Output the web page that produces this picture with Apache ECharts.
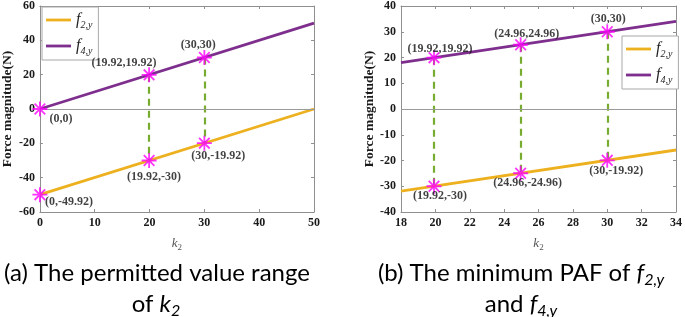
<!DOCTYPE html>
<html>
<head>
<meta charset="utf-8">
<script src="https://cdn.jsdelivr.net/npm/echarts@6.0.0/dist/echarts.min.js"></script>
<style>
  html, body { margin: 0; padding: 0; background: #fff; }
  #chart { width: 685px; height: 317px; }
</style>
</head>
<body>
<div id="chart"></div>
<script>
// (a) permitted value range of k2
const kA = [0, 50]
const f2A = [-49.92, 0]
const f4A = [0, 50]
const markKA = [0, 19.92, 30]
const markF2A = [-49.92, -30, -19.92]
const markF4A = [0, 19.92, 30]
const dashKA = [19.92, 30]
const dashTopA = [19.92, 30]
const dashBotA = [-30, -19.92]

// (b) minimum PAF
const kB = [18, 34]
const f2B = [-31.92, -15.92]
const f4B = [18, 34]
const markKB = [19.92, 24.96, 30]
const markF2B = [-30, -24.96, -19.92]
const markF4B = [19.92, 24.96, 30]

const xTicksA = { min: 0, max: 50, interval: 10 }
const yTicksA = { min: -60, max: 60, interval: 20 }
const xTicksB = { min: 18, max: 34, interval: 2 }
const yTicksB = { min: -40, max: 40, interval: 10 }

const ORANGE = '#EDB120'
const PURPLE = '#7E2F8E'
const MAGENTA = '#FF00FF'
const GREEN = '#77AC30'
const FRAME = '#8f8f8f'
const SERIF = 'Liberation Serif'

// asterisk marker (like MATLAB '*')
const STAR = 'path://M-1.2,-10 L1.2,-10 L1.2,10 L-1.2,10 Z M-10,-1.2 L10,-1.2 L10,1.2 L-10,1.2 Z ' +
  'M6.22,7.92 L-7.92,-6.22 L-6.22,-7.92 L7.92,6.22 Z ' +
  'M7.92,-6.22 L-6.22,7.92 L-7.92,6.22 L6.22,-7.92 Z'

const chart = echarts.init(document.getElementById('chart'))

const zip = (xs, ys) => xs.map((x, i) => [x, ys[i]])

function axisPair(ticks, gridIndex, posMain, posOpp, name, nameGap, isX) {
  const main = {
    type: 'value', gridIndex, position: posMain, ...ticks,
    axisLine: { show: true, onZero: false, lineStyle: { color: FRAME, width: 1 } },
    axisTick: { show: true, inside: true, length: 3, lineStyle: { color: FRAME } },
    axisLabel: { color: '#1a1a1a', fontFamily: SERIF, fontWeight: 'bold', fontSize: 12, margin: 5 },
    splitLine: { show: false },
    name, nameLocation: 'middle', nameGap
  }
  if (isX) {
    main.nameTextStyle = {
      rich: {
        k: { fontFamily: SERIF, fontStyle: 'italic', fontSize: 13, color: '#555' },
        s: { fontFamily: SERIF, fontSize: 9, color: '#555', verticalAlign: 'bottom', padding: [8, 0, 0, 0] }
      }
    }
  } else {
    main.nameTextStyle = { fontFamily: SERIF, fontWeight: 'bold', fontSize: 13.5, color: '#1a1a1a' }
  }
  const opp = {
    type: 'value', gridIndex, position: posOpp, ...ticks,
    axisLine: { show: true, onZero: false, lineStyle: { color: FRAME, width: 1 } },
    axisTick: { show: true, inside: true, length: 3, lineStyle: { color: FRAME } },
    axisLabel: { show: false },
    splitLine: { show: false }
  }
  return [main, opp]
}

function markSeries(xi, yi, ks, vs, offsets) {
  return {
    type: 'scatter', xAxisIndex: xi, yAxisIndex: yi, z: 5,
    symbol: STAR, symbolSize: 15,
    itemStyle: { color: MAGENTA },
    data: ks.map((k, i) => ({
      value: [k, vs[i]],
      label: { offset: offsets[i] }
    })),
    label: {
      show: true, position: 'inside',
      fontFamily: SERIF, fontWeight: 'bold', fontSize: 12, color: '#111',
      formatter: p => '(' + p.value[0] + ',' + p.value[1] + ')'
    }
  }
}

function dashSeries(xi, yi, ks, top, bottom) {
  return {
    type: 'line', xAxisIndex: xi, yAxisIndex: yi, z: 1,
    data: [],
    markLine: {
      silent: true, symbol: 'none', animation: false,
      lineStyle: { color: GREEN, width: 2.2, type: [7, 5] },
      label: { show: false },
      data: ks.map((k, i) => [{ coord: [k, top[i]] }, { coord: [k, bottom[i]] }])
    }
  }
}

function lineSeries(name, color, xi, yi, ks, vs, withZero) {
  const s = {
    name, type: 'line', xAxisIndex: xi, yAxisIndex: yi, z: 3,
    showSymbol: false, symbol: 'none',
    lineStyle: { color, width: 2.8 }, itemStyle: { color },
    data: zip(ks, vs)
  }
  if (withZero) {
    s.markLine = {
      silent: true, symbol: 'none', animation: false,
      lineStyle: { color: '#9a9a9a', width: 1, type: 'solid' },
      label: { show: false },
      data: [{ yAxis: 0 }]
    }
  }
  return s
}

const [xA, xAt] = axisPair(xTicksA, 0, 'bottom', 'top', '{k|k}{s|2}', 23, true)
const [yA, yAr] = axisPair(yTicksA, 0, 'left', 'right', 'Force magnitude(N)', 23, false)
const [xB, xBt] = axisPair(xTicksB, 1, 'bottom', 'top', '{k|k}{s|2}', 23, true)
const [yB, yBr] = axisPair(yTicksB, 1, 'left', 'right', 'Force magnitude(N)', 23, false)

const legendBase = {
  orient: 'vertical',
  data: ['f2y', 'f4y'],
  icon: 'rect', itemWidth: 25, itemHeight: 2.8, itemGap: 8,
  padding: [5, 6, 4, 4],
  backgroundColor: '#fff', borderColor: '#a8a8a8', borderWidth: 1, borderRadius: 0,
  formatter: n => n === 'f2y' ? '{i|f}{s|2,y}' : '{i|f}{s|4,y}',
  textStyle: {
    rich: {
      i: { fontFamily: SERIF, fontStyle: 'italic', fontSize: 16, color: '#222' },
      s: { fontFamily: SERIF, fontStyle: 'italic', fontSize: 10, color: '#222', verticalAlign: 'bottom', padding: [10, 0, 0, 0] }
    }
  }
}

const capFont = 'Lato'
const capRich = {
  i: { fontFamily: capFont, fontStyle: 'italic', fontSize: 24, color: '#000' },
  s: { fontFamily: capFont, fontStyle: 'italic', fontSize: 16, color: '#000', verticalAlign: 'bottom', padding: [13, 0, 0, 0] }
}
function caption(text, x, y) {
  return {
    type: 'text', x, y, silent: true,
    style: {
      text, fontFamily: capFont, fontSize: 24, fill: '#000',
      align: 'center', verticalAlign: 'middle', rich: capRich
    }
  }
}

chart.setOption({
  animation: false,
  grid: [
    { left: 36, top: 4, width: 278, height: 208 },
    { left: 401, top: 4, width: 278, height: 208 }
  ],
  xAxis: [xA, xAt, xB, xBt],
  yAxis: [yA, yAr, yB, yBr],
  legend: [
    { ...legendBase, left: 42, top: 7 },
    { ...legendBase, left: 622, top: 36 }
  ],
  graphic: [
    caption('(a) The permitted value range', 157, 273),
    caption('of {i|k}{s|2}', 156, 304),
    caption('(b) The minimum PAF of {i|f}{s|2,y}', 521, 273),
    caption('and {i|f}{s|4,y}', 521, 304)
  ],
  series: [
    dashSeries(0, 0, dashKA, dashTopA, dashBotA),
    lineSeries('f2y', ORANGE, 0, 0, kA, f2A, true),
    lineSeries('f4y', PURPLE, 0, 0, kA, f4A, false),
    markSeries(0, 0, markKA, markF4A, [[21, 10], [-25, -12], [-6, -13]]),
    markSeries(0, 0, markKA, markF2A, [[29, 7], [5, 16], [14, 13]]),

    dashSeries(2, 2, markKB, markF4B, markF2B),
    lineSeries('f2y', ORANGE, 2, 2, kB, f2B, true),
    lineSeries('f4y', PURPLE, 2, 2, kB, f4B, false),
    markSeries(2, 2, markKB, markF4B, [[6, -9], [6, -11], [1, -13]]),
    markSeries(2, 2, markKB, markF2B, [[6, 10], [7, 10], [9, 11]])
  ]
})
</script>
</body>
</html>
